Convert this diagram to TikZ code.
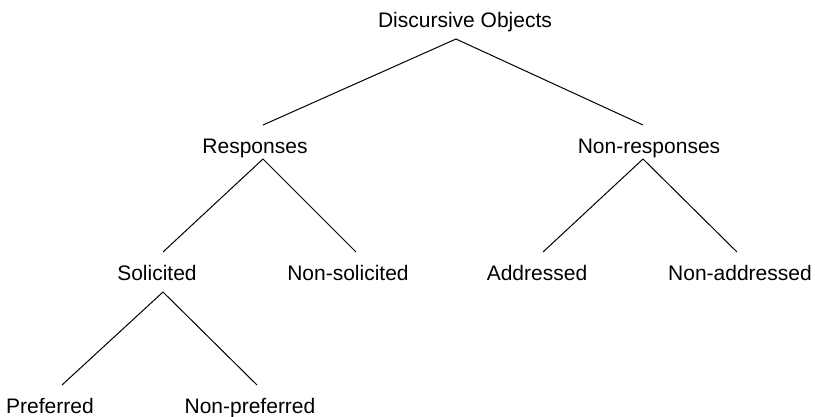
\documentclass[tikz,border=0pt]{standalone}
\usepackage{fontspec}
\setmainfont{Liberation Sans}
\begin{document}
\begin{tikzpicture}[x=1pt,y=-1pt,
  label/.style={anchor=base,inner sep=0pt,font=\fontsize{21}{25}\selectfont},
  branch/.style={line width=1pt}]
\useasboundingbox (0,0) rectangle (815,416);
% category labels
\node[label] (disc)   at (465,27)  {Discursive Objects};
\node[label] (resp)   at (255,153) {Responses};
\node[label] (nresp)  at (649,153) {Non-responses};
\node[label] (sol)    at (157,280) {Solicited};
\node[label] (nsol)   at (348,280) {Non-solicited};
\node[label] (addr)   at (537,280) {Addressed};
\node[label] (naddr)  at (740,280) {Non-addressed};
\node[label] (pref)   at (50,413)  {Preferred};
\node[label] (npref)  at (250,413) {Non-preferred};
% branch end points
\coordinate (disc-b)  at (456,39);
\coordinate (resp-t)  at (263,125);
\coordinate (nresp-t) at (643,125);
\coordinate (resp-b)  at (263,159);
\coordinate (nresp-b) at (643,159);
\coordinate (sol-t)   at (163,252);
\coordinate (nsol-t)  at (356,252);
\coordinate (addr-t)  at (543,252);
\coordinate (naddr-t) at (737,252);
\coordinate (sol-b)   at (163,292);
\coordinate (pref-t)  at (62,385);
\coordinate (npref-t) at (257,385);
% branches
\draw[branch] (resp-t) -- (disc-b) -- (nresp-t);
\draw[branch] (sol-t) -- (resp-b) -- (nsol-t);
\draw[branch] (addr-t) -- (nresp-b) -- (naddr-t);
\draw[branch] (pref-t) -- (sol-b) -- (npref-t);
\end{tikzpicture}
\end{document}
